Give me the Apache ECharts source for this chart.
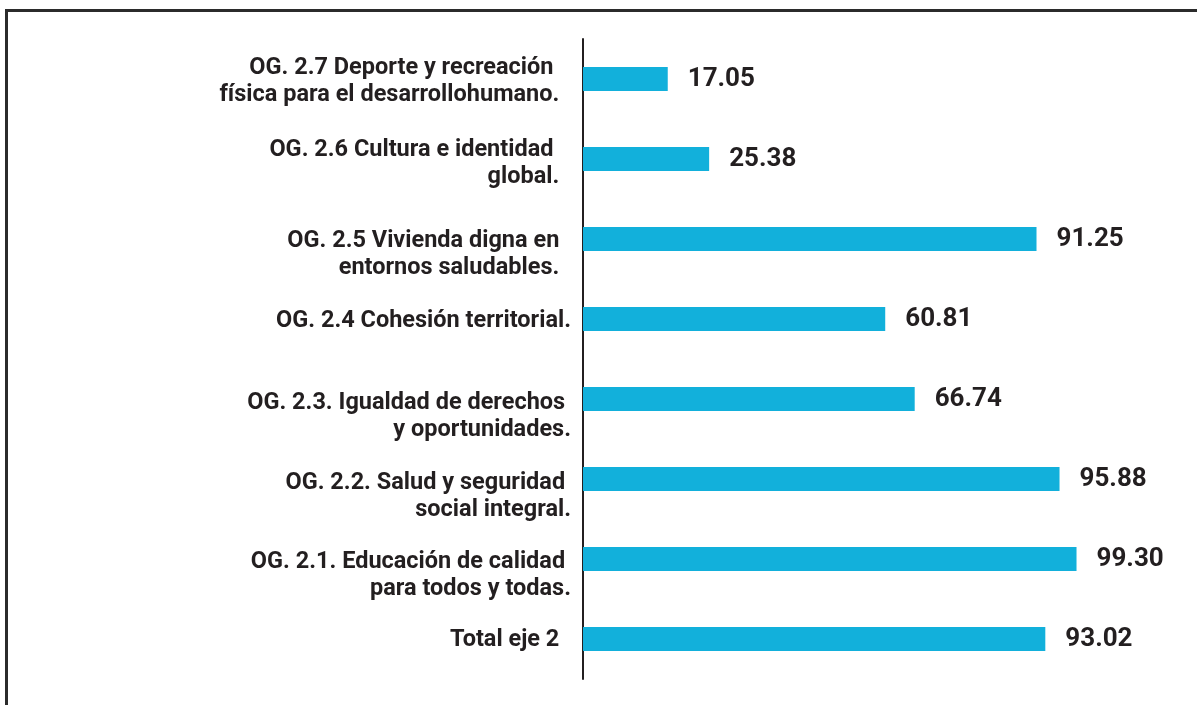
<!DOCTYPE html>
<html>
<head>
<meta charset="utf-8">
<script src="https://cdn.jsdelivr.net/npm/echarts@6/dist/echarts.min.js"></script>
<style>
  html, body { margin: 0; padding: 0; background: #fff; }
  .EC { width: 1197px; height: 705px; }
  .frame {
    position: absolute; left: 5px; top: 9px; width: 1300px; height: 800px;
    border-left: 3px solid #2b2b2b; border-top: 3px solid #2b2b2b;
    pointer-events: none;
  }
</style>
</head>
<body>
<div class="EC"></div>
<div class="frame"></div>
<script>
// categorias de arriba hacia abajo
const categories = [
  'OG. 2.7 Deporte y recreación   \nfísica para el desarrollohumano.  ',
  'OG. 2.6 Cultura e identidad   \nglobal.  ',
  'OG. 2.5 Vivienda digna en  \nentornos saludables.  ',
  'OG. 2.4 Cohesión territorial.',
  'OG. 2.3. Igualdad de derechos \ny oportunidades.',
  'OG. 2.2. Salud y seguridad \nsocial integral.',
  'OG. 2.1. Educación de calidad \npara todos y todas.',
  'Total eje 2  '
]
const values = [17.05, 25.38, 91.25, 60.81, 66.74, 95.88, 99.30, 93.02]
// desplazamiento vertical de cada etiqueta
const labelShift = [3, 5, 16, 2, 18, 18, 17, 1]

window.onload = () => {
  let EC = echarts.init(document.querySelector('.EC'))
  let rich = { t: { fontFamily: 'Roboto', fontWeight: 'bold', fontSize: 23.5, lineHeight: 27, color: '#231f20', align: 'right' } }
  labelShift.forEach((s, i) => {
    rich['g' + i] = { fontSize: 1, lineHeight: Math.max(1, s * 2), align: 'right' }
  })
  let option = {
    backgroundColor: '#fff',
    animation: false,
    grid: {
      left: 583,
      right: 117,
      top: 39,
      bottom: 26
    },
    xAxis: {
      type: 'value',
      min: 0,
      max: 100,
      show: false
    },
    yAxis: {
      type: 'category',
      inverse: true,
      data: categories,
      axisLine: { lineStyle: { color: '#231f20', width: 2 } },
      axisTick: { show: false },
      axisLabel: {
        margin: 12,
        align: 'right',
        formatter: (v, i) => '{g' + i + '| }\n' + v.split('\n').map(l => '{t|' + l + '}').join('\n'),
        rich: rich
      }
    },
    series: [{
      type: 'bar',
      data: values,
      barWidth: 24,
      itemStyle: { color: '#12b0db' },
      label: {
        show: true,
        position: 'right',
        distance: 20,
        color: '#231f20',
        fontFamily: 'Roboto',
        fontWeight: 'bold',
        fontSize: 26,
        formatter: p => p.value.toFixed(2)
      }
    }]
  }
  EC.setOption(option)
}
</script>
</body>
</html>
